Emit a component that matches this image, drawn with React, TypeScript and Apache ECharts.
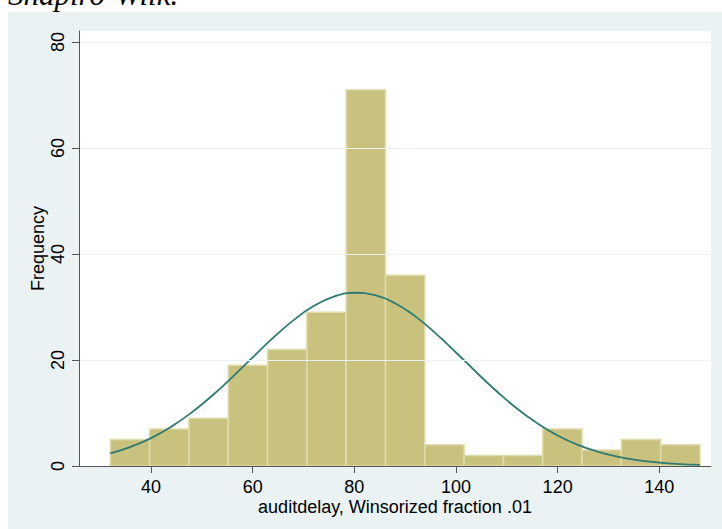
import React, { useEffect, useRef } from "react";
import * as echarts from "echarts";

// Histogram: 15 bins from 32 to 148
const binStart = 32;
const binEnd = 148;
const counts = [5, 7, 9, 19, 22, 29, 71, 36, 4, 2, 2, 7, 3, 5, 4];

// Normal density overlay
const curveX = [32, 36, 40, 44, 48, 52, 56, 60, 64, 68, 72, 76, 80, 84, 88, 92, 96, 100, 104, 108, 112, 116, 120, 124, 128, 132, 136, 140, 144, 148];
const curveY = [2.39, 3.61, 5.27, 7.43, 10.1, 13.25, 16.77, 20.49, 24.16, 27.48, 30.18, 31.97, 32.69, 32.26, 30.72, 28.23, 25.03, 21.42, 17.69, 14.1, 10.84, 8.05, 5.76, 3.98, 2.66, 1.71, 1.06, 0.64, 0.37, 0.21];

const xTicks = [40, 60, 80, 100, 120, 140];
const yTicks = [0, 20, 40, 60, 80];

const xTitle = "auditdelay, Winsorized fraction .01";
const yTitle = "Frequency";
const topText = "Shapiro-Wilk.";

const FONT = "Liberation Sans, Arial, sans-serif";

export default function App() {
  const ref = useRef<HTMLDivElement>(null);
  useEffect(() => {
    if (!ref.current) return;
    const chart = echarts.init(ref.current, undefined, { renderer: "svg" });
    const w = (binEnd - binStart) / counts.length;
    const barData = counts.map((c, i) => [binStart + i * w, binStart + (i + 1) * w, c]);
    const lineData = curveX.map((x, i) => [x, curveY[i]]);
    chart.setOption({
      animation: false,
      backgroundColor: "transparent",
      graphic: [
        {
          type: "rect",
          z: -10,
          silent: true,
          shape: { x: 8, y: 12, width: 714, height: 517 },
          style: { fill: "#EAF2F3" },
        },
        {
          type: "text",
          x: 8,
          y: -5.5,
          silent: true,
          style: {
            text: topText,
            fontFamily: "Liberation Serif, Times New Roman, serif",
            fontStyle: "italic",
            fontSize: 31,
            fill: "#000",
            align: "left",
            verticalAlign: "middle",
          },
        },
      ],
      grid: {
        left: 79,
        top: 31,
        right: 11,
        bottom: 63,
        show: true,
        backgroundColor: "#ffffff",
        borderWidth: 0,
      },
      xAxis: {
        type: "value",
        min: 25.84,
        max: 150.17,
        z: 10,
        name: xTitle,
        nameLocation: "middle",
        nameGap: 32,
        nameMoveOverlap: false,
        nameTextStyle: { fontFamily: FONT, fontSize: 18, color: "#000" },
        axisLine: { show: true, onZero: false, lineStyle: { color: "#555", width: 1 } },
        axisTick: { show: true, length: 7, customValues: xTicks, lineStyle: { color: "#555" } },
        axisLabel: { customValues: xTicks, margin: 12, fontFamily: FONT, fontSize: 18, color: "#000" },
        splitLine: { show: false },
      },
      yAxis: {
        type: "value",
        min: 0,
        max: 82.08,
        interval: 20,
        z: 10,
        name: yTitle,
        nameLocation: "middle",
        nameGap: 32,
        nameMoveOverlap: false,
        nameTextStyle: { fontFamily: FONT, fontSize: 18, color: "#000" },
        axisLine: { show: true, lineStyle: { color: "#555", width: 1 } },
        axisTick: { show: true, length: 7, customValues: yTicks, lineStyle: { color: "#555" } },
        axisLabel: { customValues: yTicks, rotate: 90, margin: 12, fontFamily: FONT, fontSize: 18, color: "#000" },
        splitLine: { show: true, lineStyle: { color: "#EAF2F3", width: 1 } },
      },
      series: [
        {
          type: "custom",
          z: 2,
          data: barData,
          encode: { x: [0, 1], y: 2 },
          renderItem: (params: any, api: any) => {
            const p0 = api.coord([api.value(0), api.value(2)]);
            const p1 = api.coord([api.value(1), 0]);
            return {
              type: "rect",
              shape: { x: p0[0], y: p0[1], width: p1[0] - p0[0], height: p1[1] - p0[1] },
              style: { fill: "#C9C27E", stroke: "#E0DCAC", lineWidth: 1.5 },
            };
          },
        },
        {
          type: "line",
          z: 3,
          data: lineData,
          smooth: true,
          showSymbol: false,
          symbol: "none",
          lineStyle: { color: "#2E7B73", width: 1.8 },
        },
      ],
    });
    return () => chart.dispose();
  }, []);
  return (
    <div
      ref={ref}
      style={{ position: "absolute", left: 0, top: 0, width: 722, height: 529 }}
    />
  );
}
